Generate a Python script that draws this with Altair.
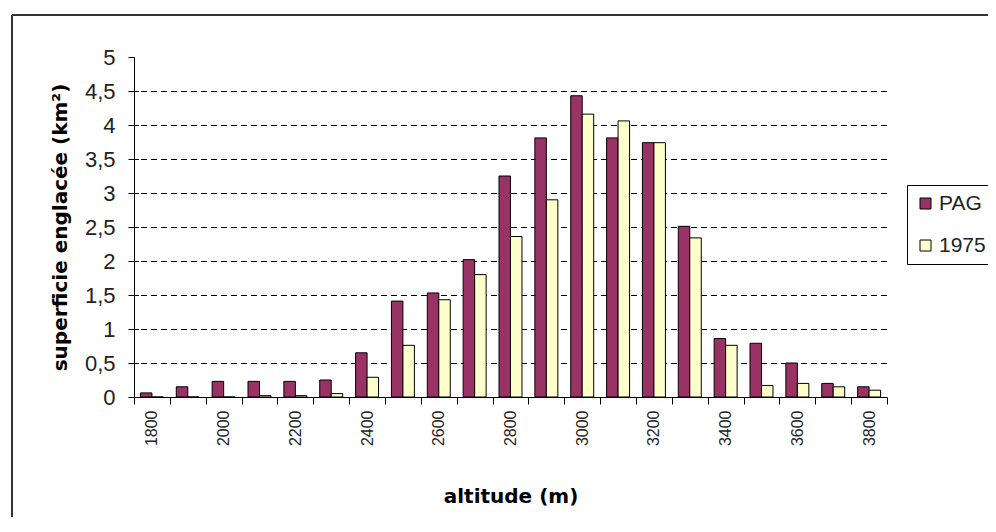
import altair as alt
import pandas as pd

altitudes = [1800, 1900, 2000, 2100, 2200, 2300, 2400, 2500, 2600, 2700, 2800,
             2900, 3000, 3100, 3200, 3300, 3400, 3500, 3600, 3700, 3800]
pag = [0.06, 0.15, 0.23, 0.23, 0.23, 0.25, 0.65, 1.41, 1.53, 2.02, 3.25,
       3.81, 4.43, 3.81, 3.74, 2.51, 0.86, 0.79, 0.50, 0.20, 0.15]
y1975 = [0.0, 0.0, 0.0, 0.02, 0.02, 0.05, 0.29, 0.76, 1.43, 1.80, 2.36,
         2.90, 4.16, 4.06, 3.74, 2.34, 0.76, 0.17, 0.20, 0.15, 0.10]
series = ["PAG", "1975"]
colors = ["#993366", "#FFFFCC"]
y_ticks = [0, 0.5, 1, 1.5, 2, 2.5, 3, 3.5, 4, 4.5, 5]
grid_values = [0.5, 1, 1.5, 2, 2.5, 3, 3.5, 4, 4.5]

rows = []
for a, p, q in zip(altitudes, pag, y1975):
    rows.append({"alt": str(a), "serie": "PAG", "val": p})
    rows.append({"alt": str(a), "serie": "1975", "val": q})
df = pd.DataFrame(rows)
alt_order = [str(a) for a in altitudes]

FONT = "Liberation Sans"
TFONT = "DejaVu Sans"
W, H = 753, 340
yscale = alt.Scale(domain=[0, 5], nice=False, zero=True)

def yaxis():
    return alt.Axis(values=y_ticks, labelOverlap=False, labelBound=False,
                    format=".1~f",
                    labelExpr="replace(datum.label, '.', ',')",
                    grid=False, domainColor="black", tickColor="black",
                    tickSize=6, labelFontSize=22, labelFont=FONT,
                    labelColor="#222", labelPadding=13,
                    title="superficie englacée (km²)", titleFont=TFONT,
                    titleFontSize=20, titleFontWeight="bold",
                    titleColor="black", titlePadding=14)

grid = alt.Chart(pd.DataFrame({"val": grid_values})).mark_rule(
    color="black", strokeDash=[6, 4], strokeWidth=1, yOffset=0.5
).encode(y=alt.Y("val:Q", scale=yscale, axis=yaxis()))

inner_ticks = alt.Chart(pd.DataFrame({"val": grid_values})).mark_rule(
    color="black", strokeWidth=1, yOffset=0.5
).encode(y=alt.Y("val:Q", scale=yscale, axis=yaxis()),
         x=alt.value(0), x2=alt.value(5))

bars = alt.Chart(df).mark_bar(stroke="black", strokeWidth=1).encode(
    x=alt.X("alt:N", sort=alt_order,
            scale=alt.Scale(paddingInner=0, paddingOuter=0),
            axis=alt.Axis(tickBand="extent", labelAngle=270, labelAlign="right",
                          labelBaseline="middle", labelPadding=6,
                          labelExpr="toNumber(datum.value) % 200 == 0 ? datum.value : ''",
                          labelFontSize=16, labelFont=FONT, labelColor="#222",
                          domainColor="black", tickColor="black", tickSize=7,
                          title="altitude (m)", titleFont=TFONT, titleFontSize=20,
                          titleFontWeight="bold", titleColor="black",
                          titlePadding=41)),
    xOffset=alt.XOffset("serie:N", sort=series,
                        scale=alt.Scale(paddingInner=0, paddingOuter=0.56)),
    y=alt.Y("val:Q", scale=yscale, axis=yaxis()),
    color=alt.Color("serie:N", sort=series,
                    scale=alt.Scale(domain=series, range=colors),
                    legend=alt.Legend(title=None, orient="none", legendX=773,
                                      legendY=128, strokeColor="black",
                                      fillColor="white", padding=8,
                                      rowPadding=20, symbolType="square",
                                      symbolSize=121, symbolStrokeColor="black",
                                      symbolStrokeWidth=1, symbolOpacity=1,
                                      labelFontSize=21, labelFont=FONT,
                                      labelColor="#222", labelOffset=3)),
)

frame_data = alt.Data(values=[{"k": 1}])
frame_left = alt.Chart(frame_data).mark_rule(color="#333", strokeWidth=2).encode(
    x=alt.value(-122), y=alt.value(-42), y2=alt.value(H + 200))
frame_top = alt.Chart(frame_data).mark_rule(color="#333", strokeWidth=2).encode(
    y=alt.value(-42), x=alt.value(-122), x2=alt.value(W + 200))

chart = alt.layer(grid, inner_ticks, bars, frame_left, frame_top).properties(
    width=W, height=H,
    autosize=alt.AutoSizeParams(type="none"),
    padding={"left": 126, "top": 49, "right": 101, "bottom": 120},
).configure(background="white").configure_view(strokeWidth=0)

chart.save("out.html", embed_options={"renderer": "svg", "actions": False})
